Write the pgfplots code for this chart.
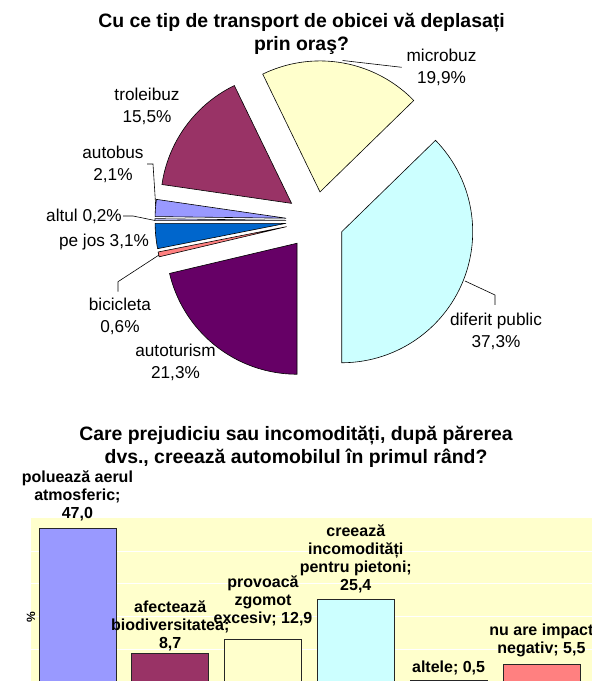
\documentclass[border=0pt]{standalone}
\usepackage{fontspec}
\setmainfont{Liberation Sans}
\usepackage{pgfplots}
\pgfplotsset{compat=1.18}
\definecolor{cLav}{HTML}{9999FF}
\definecolor{cPlum}{HTML}{993366}
\definecolor{cIvory}{HTML}{FFFFCC}
\definecolor{cAqua}{HTML}{CCFFFF}
\definecolor{cPurp}{HTML}{660066}
\definecolor{cSalmon}{HTML}{FF8080}
\definecolor{cBlue}{HTML}{0066CC}
\definecolor{cLav2}{HTML}{CCCCFF}
\definecolor{plotbg}{HTML}{FFFFCC}
\tikzset{
 pl/.style={align=center, font=\fontsize{17.2bp}{22bp}\selectfont, inner sep=0pt},
 bl/.style={align=center, font=\bfseries\fontsize{16bp}{18bp}\selectfont, inner sep=0pt, anchor=south},
 tt/.style={align=center, font=\bfseries\fontsize{19.4bp}{23.4bp}\selectfont, inner sep=0pt}}
% pie geometry (picture units = bp = reference pixels)
\newcommand\cx{315}
\newcommand\cy{460.5}
\newcommand\rad{131}
\newcommand\expl{29}
\newcommand\cum{50}
\newcommand\pieslice[2]{%
 \pgfmathsetmacro\pS{\cum}%
 \pgfmathsetmacro\pE{\cum+#1}%
 \pgfmathsetmacro\aA{90-3.6*\pE}%
 \pgfmathsetmacro\aB{90-3.6*\pS}%
 \pgfmathsetmacro\aM{(\aA+\aB)/2}%
 \pgfmathsetmacro\tx{\cx+\expl*cos(\aM)}%
 \pgfmathsetmacro\ty{\cy+\expl*sin(\aM)}%
 \edef\doslice{\noexpand\addplot[fill=#2, draw=black, line width=0.6bp, domain=\aA:\aB, samples=60, forget plot] ({\tx+\rad*cos(x)},{\ty+\rad*sin(x)}) -- (axis cs:\tx,\ty) -- cycle;}%
 \doslice
 \xdef\cum{\pE}%
}
\begin{document}
\begin{tikzpicture}
\useasboundingbox (0,0) rectangle (592bp,681bp);
% ---------------- bar chart ----------------
\begin{axis}[at={(31bp,-1bp)}, anchor=south west, x=92.8bp, y=3.27bp,
 xmin=-0.5, xmax=5.55, ymin=0, ymax=50,
 axis background/.style={fill=plotbg},
 axis line style={draw=none},
 ytick={10,20,30,40}, yticklabels={}, xtick=\empty, major tick length=0pt,
 ymajorgrids, grid style={white, line width=0.8bp},
 ybar, bar width=77bp, bar shift=0pt, clip=false,
 ylabel={\%},
 every axis y label/.style={at={(rel axis cs:0,0.5)}, rotate=90, anchor=center, xshift=-17bp, font=\bfseries\fontsize{12bp}{14bp}\selectfont}]
\addplot[fill=cLav, draw=black!85, line width=0.8bp] coordinates {(0,47.0)};
\addplot[fill=cPlum, draw=black!85, line width=0.8bp] coordinates {(1,8.7)};
\addplot[fill=cIvory, draw=black!85, line width=0.8bp] coordinates {(2,12.9)};
\addplot[fill=cAqua, draw=black!85, line width=0.8bp] coordinates {(3,25.4)};
\addplot[fill=cPurp, draw=black!85, line width=0.8bp] coordinates {(4,0.5)};
\addplot[fill=cSalmon, draw=black!85, line width=0.8bp] coordinates {(5,5.5)};
\node[bl, yshift=6.9bp] at (axis cs:0,47.0) {poluează aerul\\atmosferic;\\47,0};
\node[bl, yshift=2.8bp] at (axis cs:1,8.7) {afectează\\biodiversitatea;\\8,7};
\node[bl, yshift=13.4bp] at (axis cs:2,12.9) {provoacă\\zgomot\\excesiv; 12,9};
\node[bl, yshift=5.9bp] at (axis cs:3,25.4) {creează\\incomodități\\pentru pietoni;\\25,4};
\node[bl, yshift=5.6bp] at (axis cs:4,0.5) {altele; 0,5};
\node[bl, yshift=6.6bp] at (axis cs:5,5.5) {nu are impact\\negativ; 5,5};
\end{axis}
% ---------------- pie chart ----------------
\begin{axis}[at={(0,0)}, anchor=south west, x=1bp, y=1bp,
 xmin=0, xmax=592, ymin=0, ymax=681, hide axis, clip=false]
\pieslice{21.3}{cPurp}
\pieslice{0.6}{cSalmon}
\pieslice{3.1}{cBlue}
\pieslice{0.2}{cLav2}
\pieslice{2.1}{cLav}
\pieslice{15.5}{cPlum}
\pieslice{19.9}{cIvory}
\pieslice{37.3}{cAqua}
% leader lines
\addplot[black, line width=0.6bp, no marks] coordinates {(342.7,620.5) (401.7,613.7)};
\addplot[black, line width=0.6bp, no marks] coordinates {(155.7,475) (153,517) (147,517)};
\addplot[black, line width=0.6bp, no marks] coordinates {(155,460.5) (133,465) (123,465)};
\addplot[black, line width=0.6bp, no marks] coordinates {(159,426) (118,399.3) (118,389.3)};
\addplot[black, line width=0.6bp, no marks] coordinates {(465,400) (495,386) (495,376)};
% labels
\node[pl] at (axis cs:441.5,613.8) {microbuz\\19,9\%};
\node[pl] at (axis cs:147,575.1) {troleibuz\\15,5\%};
\node[pl] at (axis cs:113,516.5) {autobus\\2,1\%};
\node[pl] at (axis cs:84,464.3) {altul 0,2\%};
\node[pl] at (axis cs:104,438.7) {pe jos 3,1\%};
\node[pl] at (axis cs:120,364.3) {bicicleta\\0,6\%};
\node[pl] at (axis cs:175.5,318.5) {autoturism\\21,3\%};
\node[pl] at (axis cs:496,350.1) {diferit public\\37,3\%};
% titles
\node[tt] at (axis cs:301.5,647) {Cu ce tip de transport de obicei vă deplasați\\prin oraş?};
\node[tt] at (axis cs:296,234.3) {Care prejudiciu sau incomodități, după părerea\\dvs., creează automobilul în primul rând?};
\end{axis}
\end{tikzpicture}
\end{document}
